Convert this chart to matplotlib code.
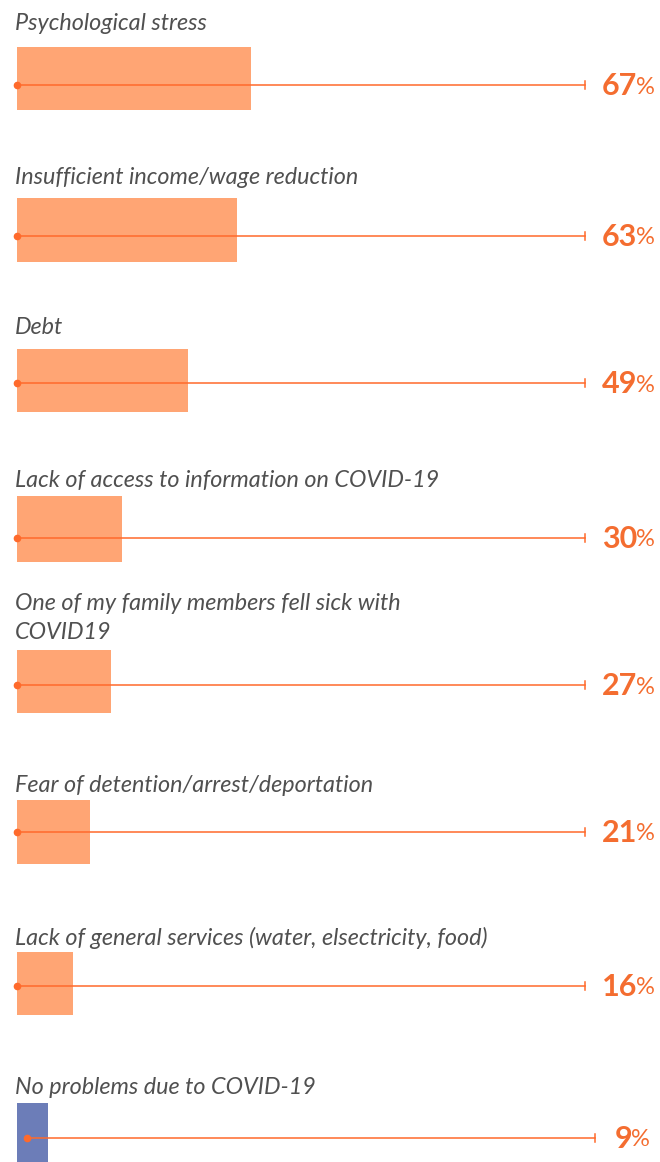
import matplotlib.pyplot as plt

labels = ["Psychological stress",
          "Insufficient income/wage reduction",
          "Debt",
          "Lack of access to information on COVID-19",
          "One of my family members fell sick with\nCOVID19",
          "Fear of detention/arrest/deportation",
          "Lack of general services (water, elsectricity, food)",
          "No problems due to COVID-19"]
values = [67, 63, 49, 30, 27, 21, 16, 9]
colors = ["#FFA574"] * 7 + ["#6C7DB8"]

# layout in pixels
W, H = 660, 1162
px_per_unit = 3.5
x0 = 17
bar_top = [47, 198, 349, 496, 650, 800, 952, 1103]
bar_h = [63, 64, 63, 66, 63, 64, 63, 59]
line_y = [85, 236, 383, 538, 685, 832, 986, 1138]
label_y = [23, 178, 328, 481, 618, 785, 938, 1087]
shift = [0, 0, 0, 0, 0, 0, 0, 10]

fig = plt.figure(figsize=(W / 100, H / 100), dpi=100)
ax = fig.add_axes([0, 0, 1, 1])
ax.set_xlim(-x0 / px_per_unit, (W - x0) / px_per_unit)
ax.set_ylim(H, 0)
ax.axis("off")

line_end = (585 - x0) / px_per_unit
orange = "#FF6A2B"
txt_orange = "#F46D30"

for i, (lab, v) in enumerate(zip(labels, values)):
    s = shift[i] / px_per_unit
    ax.barh(bar_top[i] + bar_h[i] / 2, v, height=bar_h[i], left=0,
            color=colors[i], zorder=1)
    ax.plot([s, line_end + s], [line_y[i], line_y[i]], color=orange, lw=1.1, zorder=2)
    ax.plot([s], [line_y[i]], "o", color=orange, ms=4.5, zorder=3)
    ax.plot([line_end + s] * 2, [line_y[i] - 4, line_y[i] + 4], color=orange, lw=1.1, zorder=2)
    ax.text(-2 / px_per_unit, label_y[i], lab, fontsize=16.8, family="Lato",
            style="italic", weight="normal", color="#505050", va="center",
            ha="left", linespacing=1.45)
    pct_x = (655 - x0 - (5 if i == 7 else 0)) / px_per_unit
    t = ax.text(pct_x, line_y[i] + 2, "%", fontsize=17, family="Lato",
                color=txt_orange, ha="right", va="center")
    fig.canvas.draw()
    bb = t.get_window_extent()
    xl = ax.transData.inverted().transform((bb.x0 + 1, bb.y0))[0]
    ax.text(xl, line_y[i] + 1, str(v), fontsize=22, family="Lato",
            weight="bold", color=txt_orange, ha="right", va="center")

fig.savefig("out.png", dpi=100)
